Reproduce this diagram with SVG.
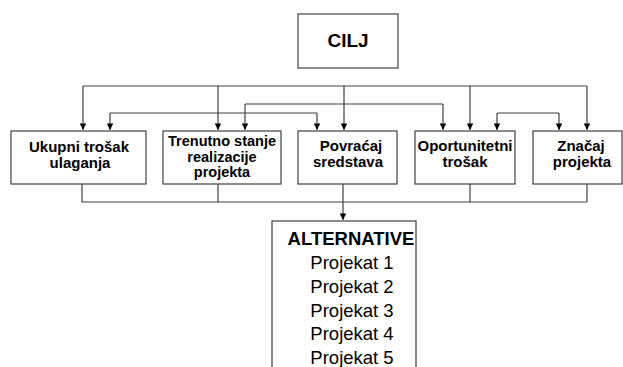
<svg xmlns="http://www.w3.org/2000/svg" width="623" height="367" viewBox="0 0 623 367">
<style>
.box{fill:#fff;stroke:#404040;stroke-width:1.2}
.ln{fill:none;stroke:#404040;stroke-width:1.2}
.ar{marker-end:url(#ah)}
.t{font-family:"Liberation Sans",Arial,sans-serif;font-weight:bold;font-size:15px;fill:#000;text-anchor:middle}
.s{font-size:14.5px}
.big{font-size:19px}
.alt{font-size:18.5px}
.p{font-family:"Liberation Sans",Arial,sans-serif;font-size:18.5px;fill:#000;text-anchor:middle}
</style>
<defs>
<marker id="ah" viewBox="0 0 10 10" refX="10" refY="5" markerWidth="9" markerHeight="6.5" markerUnits="userSpaceOnUse" orient="auto">
<path d="M0,0 L10,5 L0,10 z" fill="#000"/>
</marker>
</defs>
<rect width="623" height="367" fill="#fff"/>
<g id="connectors">
<polyline class="ln" points="83,86 587,86"/>
<line class="ln ar" x1="83" y1="86" x2="83" y2="130"/>
<line class="ln ar" x1="218" y1="86" x2="218" y2="130"/>
<line class="ln ar" x1="344" y1="86" x2="344" y2="130"/>
<line class="ln ar" x1="470" y1="86" x2="470" y2="130"/>
<line class="ln ar" x1="587" y1="86" x2="587" y2="130"/>
<polyline class="ln" points="110,113 317,113"/>
<line class="ln ar" x1="110" y1="113" x2="110" y2="130"/>
<line class="ln ar" x1="317" y1="113" x2="317" y2="130"/>
<polyline class="ln" points="245,104 443,104"/>
<line class="ln ar" x1="245" y1="104" x2="245" y2="130"/>
<line class="ln ar" x1="443" y1="104" x2="443" y2="130"/>
<polyline class="ln" points="497,113 559,113"/>
<line class="ln ar" x1="497" y1="113" x2="497" y2="130"/>
<line class="ln ar" x1="559" y1="113" x2="559" y2="130"/>
<polyline class="ln" points="82,184 82,202 587,202"/>
<line class="ln" x1="218" y1="184" x2="218" y2="202"/>
<line class="ln" x1="470" y1="184" x2="470" y2="202"/>
<line class="ln" x1="587" y1="184" x2="587" y2="202"/>
<line class="ln ar" x1="343" y1="184" x2="343" y2="220"/>
</g>
<g id="cilj">
<rect class="box" x="298" y="14" width="100" height="54"/>
<text class="t big" x="348" y="47">CILJ</text>
</g>
<g id="ukupni">
<rect class="box" x="11" y="131" width="135" height="53"/>
<text class="t" x="79" y="152">Ukupni trošak</text>
<text class="t" x="80" y="168">ulaganja</text>
</g>
<g id="trenutno">
<rect class="box" x="163" y="131" width="118" height="53"/>
<text class="t s" x="222" y="146">Trenutno stanje</text>
<text class="t s" x="222" y="161.5">realizacije</text>
<text class="t s" x="222" y="177">projekta</text>
</g>
<g id="povracaj">
<rect class="box" x="298" y="131" width="99" height="53"/>
<text class="t" x="351" y="151">Povraćaj</text>
<text class="t" x="348" y="167">sredstava</text>
</g>
<g id="oportunitetni">
<rect class="box" x="415" y="131" width="100" height="53"/>
<text class="t" x="465" y="151">Oportunitetni</text>
<text class="t" x="465" y="167">trošak</text>
</g>
<g id="znacaj">
<rect class="box" x="533" y="131" width="89" height="53"/>
<text class="t" x="581" y="151">Značaj</text>
<text class="t" x="582" y="167">projekta</text>
</g>
<g id="alternative">
<rect class="box" x="272" y="221" width="144" height="160"/>
<text class="t alt" x="351" y="245">ALTERNATIVE</text>
<text class="p" x="352" y="269">Projekat 1</text>
<text class="p" x="352" y="293">Projekat 2</text>
<text class="p" x="352" y="317">Projekat 3</text>
<text class="p" x="352" y="340">Projekat 4</text>
<text class="p" x="352" y="364">Projekat 5</text>
</g>
</svg>
